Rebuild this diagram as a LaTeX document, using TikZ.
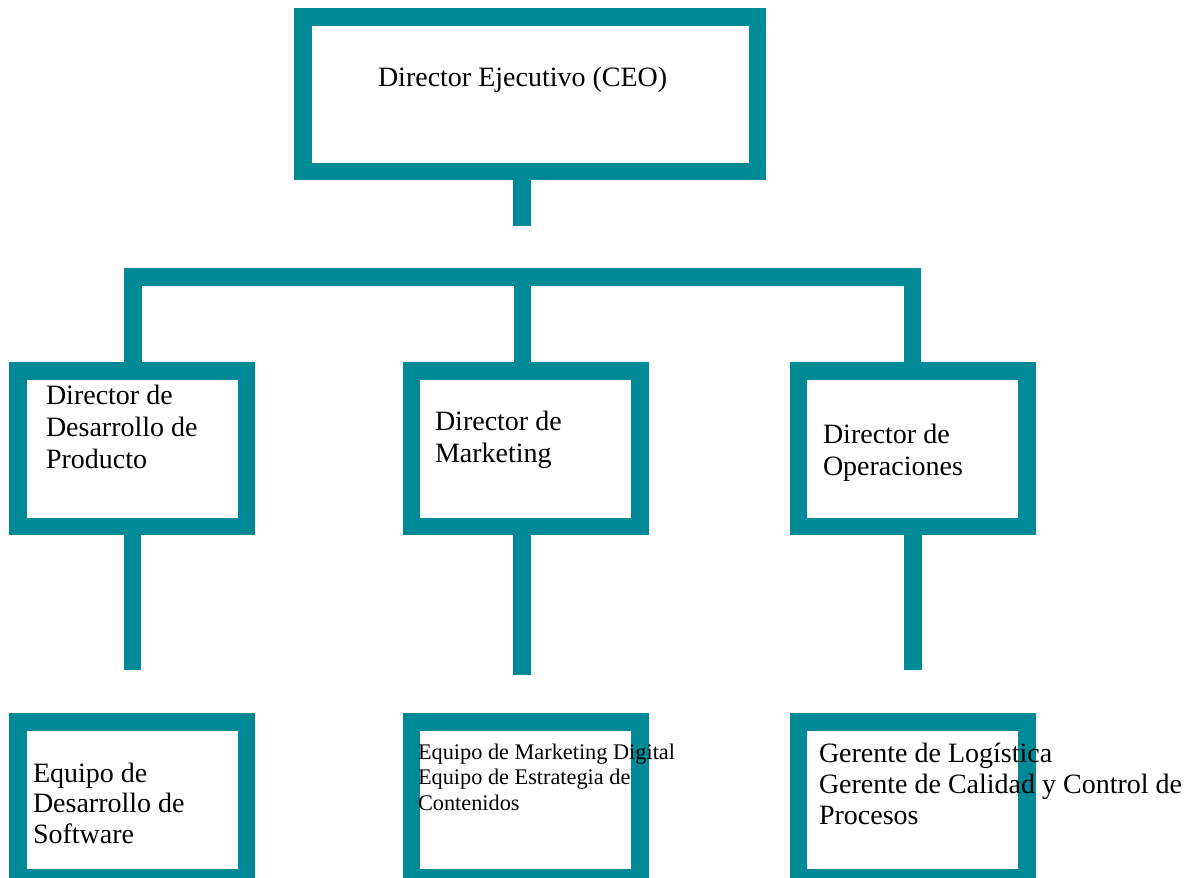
\documentclass[tikz,border=0pt]{standalone}
\usepackage{fontspec}
\setmainfont{Liberation Serif}
\definecolor{tealbox}{RGB}{0,138,152}
\tikzset{
  orgbox/.style={draw=tealbox, line width=17.5pt, fill=white, rectangle, inner sep=0pt, outer sep=0pt},
  smallbox/.style={orgbox, minimum width=228.5pt, minimum height=155.5pt},
  conn/.style={draw=tealbox, line width=17.5pt, line join=miter, line cap=butt},
  lbl/.style={anchor=north west, inner sep=0pt, outer sep=0pt, align=left, text=black},
}
\newcommand{\bigtxt}[1]{\fontsize{28}{#1}\selectfont}
\newcommand{\smalltxt}{\fontsize{22.3}{25.5}\selectfont}
\begin{document}
\begin{tikzpicture}[x=1pt, y=-1pt]
\useasboundingbox (0,0) rectangle (1192,878);
\fill[white] (0,0) rectangle (1192,878);
\begin{scope}
\clip (0,0) rectangle (1192,878);
% boxes
\node[orgbox, minimum width=454.5pt, minimum height=154.5pt] (ceo) at (530,94) {};
\node[smallbox] (prod) at (132,448.5) {};
\node[smallbox] (mkt) at (525.5,448.5) {};
\node[smallbox] (ops) at (912.5,448.5) {};
\node[smallbox] (soft) at (132,799.5) {};
\node[smallbox] (mktteam) at (525.5,799.5) {};
\node[smallbox] (opsteam) at (912.5,799.5) {};
% connector coordinates
\coordinate (ceoend) at (522,226);
\coordinate (barleft) at (133,277);
\coordinate (barright) at (912.5,277);
\coordinate (barmid) at (522.5,277);
\coordinate (prodend) at (132.5,670);
\coordinate (mktend) at (522,675);
\coordinate (opsend) at (913,670);
% connectors
\draw[conn] (ceoend |- ceo.south) -- (ceoend);
\draw[conn] (barleft |- prod.north) -- (barleft) -- (barright) -- (barright |- ops.north);
\draw[conn] (barmid) -- (barmid |- mkt.north);
\draw[conn] (prodend |- prod.south) -- (prodend);
\draw[conn] (mktend |- mkt.south) -- (mktend);
\draw[conn] (opsend |- ops.south) -- (opsend);
% texts
\node[lbl, font=\bigtxt{31.5}] (ceotxt) at (378,66) {\rule{0pt}{20pt}Director Ejecutivo (CEO)};
\node[lbl, font=\bigtxt{32}] (prodtxt) at (46,384) {\rule{0pt}{20pt}Director de\\Desarrollo de\\Producto};
\node[lbl, font=\bigtxt{32}] (mkttxt) at (435,410) {\rule{0pt}{20pt}Director de\\Marketing};
\node[lbl, font=\bigtxt{32}] (opstxt) at (823,423) {\rule{0pt}{20pt}Director de\\Operaciones};
\node[lbl, font=\bigtxt{30.5}] (softtxt) at (33,762) {\rule{0pt}{20pt}Equipo de\\Desarrollo de\\Software};
\node[lbl, font=\smalltxt] (mktteamtxt) at (418,742) {\rule{0pt}{17pt}Equipo de Marketing Digital\\Equipo de Estrategia de\\Contenidos};
\node[lbl, font=\bigtxt{31}] (opsteamtxt) at (819,742) {\rule{0pt}{20pt}Gerente de Log\'istica\\Gerente de Calidad y Control de\\Procesos};
\end{scope}
\end{tikzpicture}
\end{document}
